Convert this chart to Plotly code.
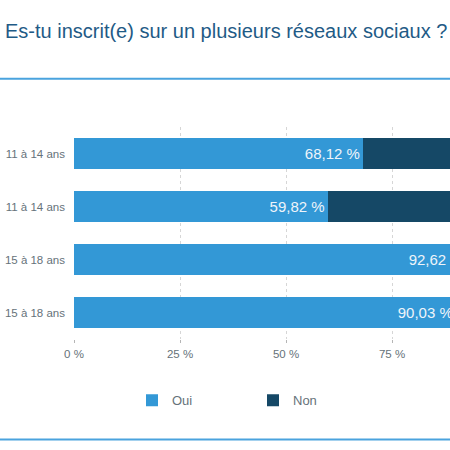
import plotly.graph_objects as go

# data
categories = ["11 à 14 ans", "11 à 14 ans", "15 à 18 ans", "15 à 18 ans"]
oui = [68.12, 59.82, 92.62, 90.03]
non = [31.88, 40.18, 7.38, 9.97]
x_ticks = [0, 25, 50, 75, 100]
x_tick_labels = ["0 %", "25 %", "50 %", "75 %", "100 %"]

OUI_COLOR = "#3398d6"
NON_COLOR = "#154866"
LINE_COLOR = "#4aa3de"
GREY = "#66727a"

rows = list(range(len(categories)))

fig = go.Figure()
fig.add_trace(
    go.Bar(
        y=rows,
        x=oui,
        orientation="h",
        name="Oui",
        marker=dict(color=OUI_COLOR, line=dict(width=0)),
        texttemplate="%{x:.2f} %",
        textposition="inside",
        insidetextanchor="end",
        textfont=dict(color="#eef4fa", size=15),
        constraintext="none",
    )
)
fig.add_trace(
    go.Bar(
        y=rows,
        x=non,
        orientation="h",
        name="Non",
        marker=dict(color=NON_COLOR, line=dict(width=0)),
        hoverinfo="x",
    )
)

# full chart is wider than the picture: right part is cut off
L, R, T, B = 74, 450, 126.5, 339.5
plot_w = R - L
plot_h = B - T
px_per_pct = 424 / 100


def py(y_px):
    return (B - y_px) / plot_h


def pxx(x_px):
    return (x_px - L) / plot_w


fig.update_layout(
    width=450,
    height=450,
    barmode="stack",
    bargap=0.4,
    separators=", ",
    plot_bgcolor="white",
    paper_bgcolor="white",
    font=dict(family="Liberation Sans, Arial, sans-serif", color=GREY, size=11),
    margin=dict(l=L, r=450 - R, t=T, b=450 - B, pad=0),
    title=dict(
        text="Es-tu inscrit(e) sur un plusieurs réseaux sociaux ?",
        x=5 / 450,
        xanchor="left",
        y=1 - 31 / 450,
        yanchor="middle",
        font=dict(size=20, color="#1f5b86"),
    ),
    xaxis=dict(
        range=[0, plot_w / px_per_pct],
        tickvals=x_ticks,
        ticktext=x_tick_labels,
        showgrid=True,
        gridcolor="#d6d6d6",
        griddash="dot",
        gridwidth=1,
        zeroline=False,
        showline=False,
        ticks="outside",
        ticklen=3,
        tickcolor="#b5b5b5",
        ticklabelstandoff=1,
        tickfont=dict(size=11.5, color=GREY),
        fixedrange=True,
    ),
    yaxis=dict(
        tickvals=rows,
        ticktext=categories,
        autorange="reversed",
        showgrid=False,
        zeroline=False,
        ticks="",
        ticklabelstandoff=8,
        tickfont=dict(size=11.5, color=GREY),
        fixedrange=True,
    ),
    legend=dict(
        orientation="h",
        x=pxx(132),
        xanchor="left",
        y=py(401),
        yanchor="middle",
        entrywidth=76,
        entrywidthmode="pixels",
        font=dict(size=13, color=GREY),
        traceorder="normal",
    ),
    shapes=[
        dict(
            type="line",
            xref="paper",
            yref="paper",
            x0=pxx(0),
            x1=pxx(450),
            y0=py(78),
            y1=py(78),
            line=dict(color=LINE_COLOR, width=2),
        ),
        dict(
            type="line",
            xref="paper",
            yref="paper",
            x0=pxx(0),
            x1=pxx(450),
            y0=py(440.5),
            y1=py(440.5),
            line=dict(color=LINE_COLOR, width=2),
        ),
    ],
)

fig.write_html(
    "out.html",
    config={"displayModeBar": False},
    post_script="document.body.style.margin='0';",
)
